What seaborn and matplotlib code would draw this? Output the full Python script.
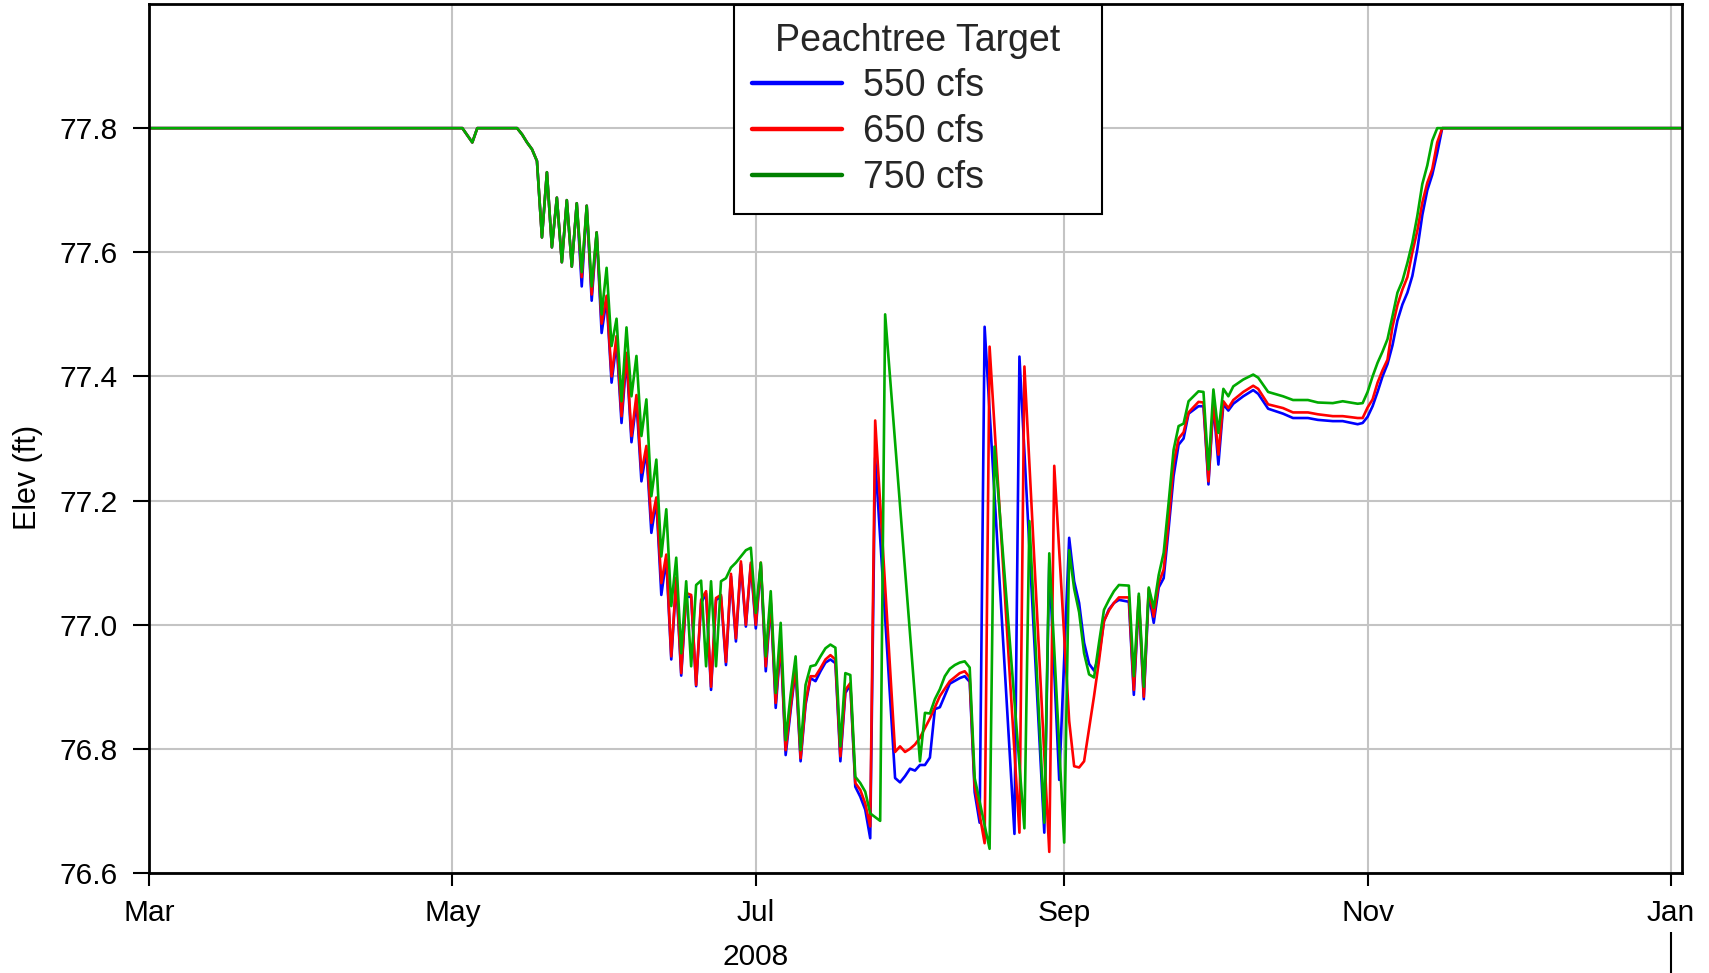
import numpy as np
import pandas as pd
import matplotlib
matplotlib.use("Agg")
import matplotlib.pyplot as plt
import matplotlib.dates as mdates
from matplotlib.lines import Line2D
import seaborn as sns

# ---------------- data (days since 2008-03-01, elevation ft) ----------------
start_date = "2008-03-01"
series_names = ["550 cfs", "650 cfs", "750 cfs"]
legend_title = "Peachtree Target"

common_days = [0, 63, 65, 66, 74, 75, 76, 77, 78, 79, 80, 81, 82, 83, 84, 85, 86]
common_elev = [77.8, 77.8, 77.777, 77.8, 77.8, 77.79, 77.777, 77.766, 77.747, 77.624,
               77.729, 77.608, 77.688, 77.584, 77.684, 77.577, 77.679]

days_550 = list(range(87, 147)) + [150, 151, 152, 153, 154, 155, 156, 157, 158, 159, 161, 163,
            164, 165, 166, 167, 168, 174, 175, 180, 181, 183, 185, 186, 187, 188, 189, 190,
            191, 192, 193, 194, 195, 197, 198, 199, 200, 201, 202, 203, 204, 205, 206, 207,
            208, 209, 211, 212, 213, 214, 215, 216, 217, 218, 220, 222, 223, 225, 228, 230,
            233, 235, 238, 240, 243, 244, 245, 246, 247, 248, 249, 250, 251, 252, 253, 254,
            255, 256, 257, 258, 259, 260, 308]
elev_550 = [77.545, 77.675, 77.522, 77.632, 77.47, 77.525, 77.39, 77.455, 77.325, 77.43,
            77.294, 77.36, 77.231, 77.28, 77.148, 77.2, 77.048, 77.105, 76.944, 77.07,
            76.918, 77.045, 77.045, 76.901, 77.035, 77.05, 76.895, 77.04, 77.045, 76.935,
            77.078, 76.973, 77.098, 76.997, 77.097, 76.994, 77.097, 76.925, 77.035, 76.866,
            76.97, 76.79, 76.862, 76.928, 76.78, 76.871, 76.914, 76.909, 76.925, 76.939,
            76.944, 76.938, 76.78, 76.89, 76.903, 76.739, 76.723, 76.702, 76.656, 77.269,
            76.753, 76.746, 76.756, 76.768, 76.765, 76.774, 76.774, 76.786, 76.864, 76.867,
            76.905, 76.914, 76.917, 76.908, 76.73, 76.681, 77.48, 76.663, 77.432, 76.665,
            77.10, 76.75, 77.14, 77.07, 77.035, 76.971, 76.937, 76.926, 76.95, 77.006,
            77.025, 77.035, 77.04, 77.037, 76.887, 77.04, 76.88, 77.05, 77.003, 77.06,
            77.075, 77.155, 77.24, 77.29, 77.30, 77.34, 77.352, 77.352, 77.226, 77.355,
            77.258, 77.355, 77.345, 77.356, 77.368, 77.378, 77.372, 77.348, 77.34, 77.333,
            77.333, 77.33, 77.328, 77.328, 77.323, 77.325, 77.335, 77.352, 77.375, 77.40,
            77.42, 77.45, 77.49, 77.516, 77.535, 77.562, 77.605, 77.66, 77.70, 77.725,
            77.76, 77.8, 77.8]

days_650 = list(range(87, 147)) + [150, 151, 152, 153, 154, 155, 157, 159, 161, 163, 164,
            165, 166, 168, 169, 175, 176, 181, 182, 185, 186, 187, 188, 189, 190, 191, 192,
            193, 194, 195, 197, 198, 199, 200, 201, 202, 203, 204, 205, 206, 207, 208, 209,
            211, 212, 213, 214, 215, 216, 217, 218, 220, 222, 223, 225, 228, 230, 233, 235,
            238, 240, 243, 244, 245, 246, 247, 248, 249, 250, 251, 252, 253, 254, 255, 256,
            257, 258, 259, 260, 308]
elev_650 = [77.56, 77.675, 77.532, 77.632, 77.485, 77.53, 77.40, 77.465, 77.336, 77.438,
            77.304, 77.37, 77.245, 77.288, 77.164, 77.205, 77.067, 77.113, 76.949, 77.076,
            76.922, 77.051, 77.048, 76.903, 77.04, 77.054, 76.90, 77.043, 77.048, 76.94,
            77.082, 76.978, 77.102, 77.0, 77.10, 77.0, 77.10, 76.933, 77.04, 76.874,
            76.976, 76.798, 76.868, 76.933, 76.785, 76.875, 76.917, 76.917, 76.93, 76.944,
            76.951, 76.944, 76.788, 76.895, 76.906, 76.745, 76.734, 76.712, 76.675, 77.329,
            76.795, 76.804, 76.795, 76.80, 76.807, 76.818, 76.849, 76.885, 76.909, 76.922,
            76.925, 76.915, 76.74, 76.648, 77.448, 76.665, 77.416, 76.634, 77.256, 76.845,
            76.772, 76.77, 76.78, 76.833, 76.885, 76.942, 77.006, 77.023, 77.035, 77.044,
            77.044, 76.895, 77.046, 76.884, 77.058, 77.013, 77.067, 77.089, 77.167, 77.26,
            77.30, 77.31, 77.342, 77.359, 77.358, 77.231, 77.36, 77.274, 77.36, 77.349,
            77.362, 77.375, 77.385, 77.38, 77.355, 77.349, 77.342, 77.342, 77.339, 77.336,
            77.336, 77.333, 77.333, 77.35, 77.363, 77.39, 77.41, 77.427, 77.48, 77.515,
            77.54, 77.56, 77.60, 77.635, 77.68, 77.712, 77.734, 77.777, 77.8, 77.8]

days_750 = list(range(87, 149)) + [155, 156, 157, 158, 159, 160, 161, 162, 163, 164, 165,
            166, 169, 170, 176, 177, 180, 181, 184, 185, 186, 187, 188, 189, 190, 191, 192,
            193, 194, 195, 197, 198, 199, 200, 201, 202, 203, 204, 205, 206, 207, 208, 209,
            211, 212, 213, 214, 215, 216, 217, 218, 220, 222, 223, 225, 228, 230, 233, 235,
            238, 240, 243, 244, 245, 246, 247, 248, 249, 250, 251, 252, 253, 254, 255, 256,
            257, 258, 259, 308]
elev_750 = [77.568, 77.675, 77.545, 77.632, 77.50, 77.575, 77.449, 77.493, 77.36, 77.479,
            77.368, 77.433, 77.304, 77.363, 77.207, 77.266, 77.11, 77.186, 77.03, 77.108,
            76.954, 77.07, 76.933, 77.064, 77.071, 76.933, 77.07, 76.933, 77.07, 77.075,
            77.092, 77.10, 77.11, 77.12, 77.124, 77.019, 77.10, 76.949, 77.054, 76.89,
            77.003, 76.814, 76.887, 76.949, 76.798, 76.903, 76.933, 76.935, 76.949, 76.962,
            76.968, 76.963, 76.804, 76.922, 76.919, 76.755, 76.745, 76.731, 76.696, 76.69,
            76.684, 77.5, 76.78, 76.858, 76.857, 76.88, 76.896, 76.917, 76.929, 76.935,
            76.939, 76.941, 76.931, 76.753, 76.639, 77.287, 76.672, 77.167, 76.681, 77.115,
            76.649, 77.12, 77.058, 77.02, 76.954, 76.92, 76.915, 76.971, 77.024, 77.04,
            77.054, 77.064, 77.063, 76.917, 77.05, 76.90, 77.06, 77.027, 77.08, 77.116,
            77.197, 77.282, 77.32, 77.324, 77.36, 77.376, 77.375, 77.25, 77.379, 77.309,
            77.38, 77.368, 77.384, 77.395, 77.403, 77.398, 77.375, 77.368, 77.362, 77.362,
            77.358, 77.357, 77.36, 77.356, 77.357, 77.375, 77.40, 77.422, 77.44, 77.46,
            77.497, 77.535, 77.554, 77.583, 77.616, 77.659, 77.71, 77.74, 77.78, 77.8, 77.8]

line_colors = ["#0000ff", "#ff0000", "#00aa00"]
legend_colors = ["#0000ff", "#ff0000", "#008000"]
y_ticks = [76.6, 76.8, 77.0, 77.2, 77.4, 77.6, 77.8]

# ---------------- build long frame ----------------
frames = []
base = pd.Timestamp(start_date)
for name, d, v in zip(series_names, [days_550, days_650, days_750],
                      [elev_550, elev_650, elev_750]):
    dd = common_days + d
    vv = common_elev + v
    assert len(dd) == len(vv), (name, len(dd), len(vv))
    frames.append(pd.DataFrame({"date": base + pd.to_timedelta(dd, unit="D"),
                                "elev": vv, "target": name}))
df = pd.concat(frames, ignore_index=True)

# ---------------- style ----------------
sns.set_theme(style="white")
plt.rcParams["font.family"] = ["Liberation Sans", "DejaVu Sans"]
plt.rcParams["axes.unicode_minus"] = False

fig = plt.figure(figsize=(17.09, 9.73), dpi=100)
ax = fig.add_axes([149 / 1709, 1 - 873 / 973, 1533 / 1709, 869 / 973])

sns.lineplot(data=df, x="date", y="elev", hue="target", hue_order=series_names,
             palette=line_colors, estimator=None, sort=False, linewidth=1.9,
             legend=False, ax=ax)

ax.set_xlim(pd.Timestamp("2008-03-01"), pd.Timestamp("2009-01-03 05:00"))
ax.set_ylim(76.6, 78.0)
ax.set_yticks(y_ticks)
ax.yaxis.set_major_formatter(matplotlib.ticker.FormatStrFormatter("%.1f"))
ax.xaxis.set_major_locator(mdates.MonthLocator(bymonth=[1, 3, 5, 7, 9, 11]))
ax.xaxis.set_major_formatter(mdates.DateFormatter("%b"))

ax.grid(True, color="#c4c4c4", linewidth=1.5)
ax.set_axisbelow(True)
for s in ax.spines.values():
    s.set_visible(True)
    s.set_color("black")
    s.set_linewidth(2)

ax.tick_params(axis="x", direction="out", length=9.5, width=1.5, pad=9.5,
               labelsize=21.5, colors="black", bottom=True)
ax.tick_params(axis="y", direction="out", length=11.5, width=1.5, pad=11,
               labelsize=21.5, colors="black", left=True)
ax.set_xlabel("")
ax.set_ylabel("Elev (ft)", fontsize=22, labelpad=12, color="black")
ax.yaxis.label.set_y(0.455)

# year annotation axis below
sec = ax.secondary_xaxis(-59 / 869)
sec.spines["bottom"].set_visible(False)
sec.set_xticks([mdates.date2num(pd.Timestamp("2009-01-01"))], labels=[""])
sec.set_xticks([mdates.date2num(pd.Timestamp("2008-07-01"))], labels=["2008"], minor=True)
sec.tick_params(axis="x", which="major", length=33, width=1.5, direction="out",
                color="black")
sec.tick_params(axis="x", which="minor", length=0, pad=8, labelsize=21.5,
                labelcolor="black")

# legend
handles = [Line2D([], [], color=c, linewidth=3.2) for c in legend_colors]
leg = ax.legend(handles, series_names, title=legend_title, loc="upper left",
                bbox_to_anchor=(0.3816, 0.0, 0.2401, 0.9988), mode="expand",
                borderaxespad=0, fontsize=27, title_fontsize=27, frameon=True,
                fancybox=False, framealpha=1, edgecolor="black",
                handlelength=2.4, handletextpad=0.58, borderpad=0.47,
                labelspacing=0.26)
leg.get_frame().set_linewidth(1.5)

fig.savefig("out.png", dpi=100)
